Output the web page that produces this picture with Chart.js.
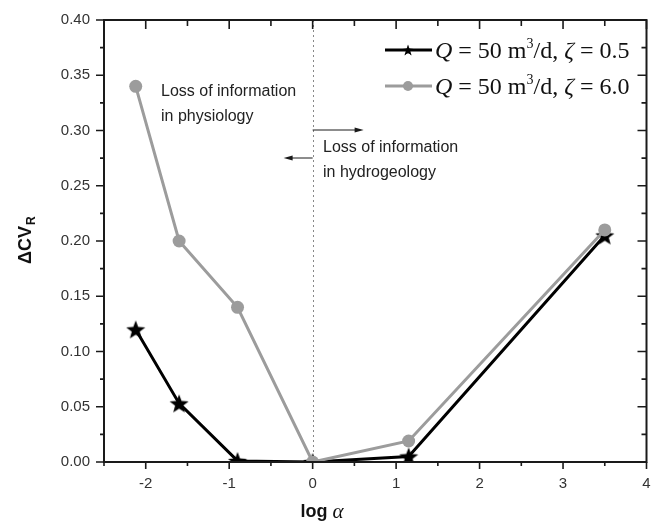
<!DOCTYPE html>
<html>
<head>
<meta charset="utf-8">
<script src="https://cdn.jsdelivr.net/npm/chart.js@4/dist/chart.umd.min.js"></script>
<style>
  html, body { margin: 0; padding: 0; background: #fff; }
  #wrap { width: 653px; height: 522px; }
</style>
</head>
<body>
<div id="wrap"><canvas id="chart" width="653" height="522"></canvas></div>
<script>
// data
const logAlpha = [-2.12, -1.6, -0.9, 0, 1.15, 3.5];
const cvZeta05 = [0.12, 0.053, 0.001, 0, 0.005, 0.205];
const cvZeta60 = [0.34, 0.20, 0.14, 0, 0.019, 0.21];
const xTicks = [-2, -1, 0, 1, 2, 3, 4];
const yTicks = [0, 0.05, 0.10, 0.15, 0.20, 0.25, 0.30, 0.35, 0.40];

const GREY = "#9c9c9c";
const INK = "#1a1a1a";
const SANS = "'Liberation Sans', Arial, sans-serif";
const SERIF = "'Liberation Serif', 'Times New Roman', serif";

// filled five point star for the black series
function makeStar(size, color) {
    const c = document.createElement("canvas");
    c.width = size; c.height = size;
    const g = c.getContext("2d");
    const r1 = size / 2, r2 = size / 2 * 0.42;
    g.beginPath();
    for (let i = 0; i < 10; i++) {
        const r = i % 2 === 0 ? r1 : r2;
        const a = -Math.PI / 2 + i * Math.PI / 5;
        g.lineTo(size / 2 + r * Math.cos(a), size / 2 + 1 + r * Math.sin(a));
    }
    g.closePath();
    g.fillStyle = color;
    g.fill();
    return c;
}
const starImg = makeStar(20, "#000");

const toPoints = (xs, ys) => xs.map((x, i) => ({ x, y: ys[i] }));

// frame, ticks, dotted line, arrows, notes, legend, axis titles
const decorations = {
    id: "decorations",
    beforeDatasetsDraw(chart) {
        const { ctx, chartArea: a, scales: { x } } = chart;
        ctx.save();
        ctx.strokeStyle = "#888";
        ctx.lineWidth = 1;
        ctx.setLineDash([2, 3]);
        const x0 = Math.round(x.getPixelForValue(0)) + 0.5;
        ctx.beginPath();
        ctx.moveTo(x0, a.top);
        ctx.lineTo(x0, a.bottom);
        ctx.stroke();
        ctx.restore();
    },
    afterDraw(chart) {
        const { ctx, chartArea: a, scales: { x, y } } = chart;
        ctx.save();

        // frame
        ctx.strokeStyle = INK;
        ctx.lineWidth = 2;
        ctx.strokeRect(a.left, a.top, a.right - a.left, a.bottom - a.top);

        // ticks: outward on left/bottom, inward on right/top
        ctx.lineWidth = 1.6;
        ctx.beginPath();
        for (let v = -2.5; v <= 4.001; v += 0.5) {
            const px = x.getPixelForValue(v);
            const major = Math.abs(v - Math.round(v)) < 1e-6;
            const len = major ? 7 : 4;
            ctx.moveTo(px, a.bottom); ctx.lineTo(px, a.bottom + len);
            ctx.moveTo(px, a.top); ctx.lineTo(px, a.top + len + 2);
        }
        for (let v = 0; v <= 0.4001; v += 0.025) {
            const py = y.getPixelForValue(v);
            const major = Math.abs(v / 0.05 - Math.round(v / 0.05)) < 1e-6;
            const len = major ? 8 : 4;
            ctx.moveTo(a.left, py); ctx.lineTo(a.left - len, py);
            ctx.moveTo(a.right, py); ctx.lineTo(a.right - len - 1, py);
        }
        ctx.stroke();

        // arrows around log alpha = 0
        const x0 = x.getPixelForValue(0);
        function arrow(x1, x2, yy) {
            const dir = Math.sign(x2 - x1);
            ctx.strokeStyle = INK;
            ctx.fillStyle = INK;
            ctx.lineWidth = 1;
            ctx.beginPath();
            ctx.moveTo(x1, yy); ctx.lineTo(x2 - dir * 6, yy);
            ctx.stroke();
            ctx.beginPath();
            ctx.moveTo(x2, yy);
            ctx.lineTo(x2 - dir * 9, yy - 2.5);
            ctx.lineTo(x2 - dir * 9, yy + 2.5);
            ctx.closePath();
            ctx.fill();
        }
        arrow(x0, x0 + 51, 130);
        arrow(x0, x0 - 29, 158);

        // notes
        ctx.fillStyle = "#222";
        ctx.font = "16px " + SANS;
        ctx.textBaseline = "middle";
        ctx.textAlign = "left";
        ctx.fillText("Loss of information", 161, 92);
        ctx.fillText("in physiology", 161, 117);
        ctx.fillText("Loss of information", 323, 148);
        ctx.fillText("in hydrogeology", 323, 173);

        // legend
        function legendRow(yy, color, marker, zeta) {
            ctx.strokeStyle = color;
            ctx.lineWidth = 3;
            ctx.beginPath();
            ctx.moveTo(385, yy); ctx.lineTo(432, yy);
            ctx.stroke();
            if (marker === "star") {
                ctx.drawImage(starImg, 408 - 6, yy - 6, 12, 12);
            } else {
                ctx.fillStyle = color;
                ctx.beginPath();
                ctx.arc(408, yy, 5, 0, Math.PI * 2);
                ctx.fill();
            }
            ctx.fillStyle = "#111";
            ctx.textBaseline = "alphabetic";
            const base = yy + 8;
            let cx = 435;
            const parts = [
                ["italic 24px " + SERIF, "Q", 0],
                ["24px " + SERIF, " = 50 m", 0],
                ["14px " + SERIF, "3", -10],
                ["24px " + SERIF, "/d, ", 0],
                ["italic 24px " + SERIF, "\u03B6", 0],
                ["24px " + SERIF, " = " + zeta, 0]
            ];
            parts.forEach(([font, txt, dy]) => {
                ctx.font = font;
                ctx.fillText(txt, cx, base + dy);
                cx += ctx.measureText(txt).width;
            });
        }
        legendRow(50, "#000", "star", "0.5");
        legendRow(86, GREY, "circle", "6.0");

        // axis titles
        ctx.fillStyle = "#111";
        ctx.textBaseline = "middle";
        ctx.font = "bold 18px " + SANS;
        ctx.save();
        ctx.translate(26, 245);
        ctx.rotate(-Math.PI / 2);
        ctx.textAlign = "center";
        ctx.fillText("\u0394CV", 0, 0);
        const w = ctx.measureText("\u0394CV").width;
        ctx.font = "bold 12px " + SANS;
        ctx.textAlign = "left";
        ctx.fillText("R", w / 2 + 1, 6);
        ctx.restore();

        ctx.textAlign = "left";
        ctx.font = "bold 18px " + SANS;
        const lw = ctx.measureText("log ").width;
        ctx.font = "italic 21px " + SERIF;
        const aw = ctx.measureText("\u03B1").width;
        const sx = 322 - (lw + aw) / 2;
        ctx.font = "bold 18px " + SANS;
        ctx.fillText("log ", sx, 512);
        ctx.font = "italic 21px " + SERIF;
        ctx.fillText("\u03B1", sx + lw, 512);

        ctx.restore();
    }
};

new Chart(document.getElementById("chart"), {
    type: "scatter",
    data: {
        datasets: [
            {
                label: "Q = 50 m3/d, zeta = 6.0",
                data: toPoints(logAlpha, cvZeta60),
                showLine: true,
                borderColor: GREY,
                backgroundColor: GREY,
                borderWidth: 3,
                pointRadius: 6.5,
                pointHoverRadius: 6.5,
                pointStyle: "circle",
                pointBorderWidth: 0,
                order: 0
            },
            {
                label: "Q = 50 m3/d, zeta = 0.5",
                data: toPoints(logAlpha, cvZeta05),
                showLine: true,
                borderColor: "#000",
                backgroundColor: "#000",
                borderWidth: 3,
                pointStyle: starImg,
                // the image is drawn at its own size; keep radius small so it adds no layout padding
                pointRadius: 1,
                pointBorderWidth: 0,
                order: 1
            }
        ]
    },
    options: {
        responsive: false,
        animation: false,
        layout: { padding: { top: 20, right: 6, left: 0, bottom: 0 } },
        plugins: { legend: { display: false }, tooltip: { enabled: false } },
        scales: {
            x: {
                type: "linear",
                min: -2.5,
                max: 4,
                afterBuildTicks: s => { s.ticks = xTicks.map(v => ({ value: v })); },
                afterFit: s => { s.height = 60; s.paddingLeft = 0; s.paddingRight = 0; },
                grid: { display: false, drawTicks: false },
                border: { display: false },
                ticks: {
                    padding: 13,
                    color: "#333",
                    font: { family: SANS, size: 15 },
                    maxRotation: 0,
                    callback: v => String(v)
                }
            },
            y: {
                type: "linear",
                min: 0,
                max: 0.4,
                afterBuildTicks: s => { s.ticks = yTicks.map(v => ({ value: v })); },
                afterFit: s => { s.width = 104; s.paddingTop = 0; s.paddingBottom = 0; },
                grid: { display: false, drawTicks: false },
                border: { display: false },
                ticks: {
                    padding: 14,
                    color: "#333",
                    font: { family: SANS, size: 15 },
                    callback: v => Number(v).toFixed(2)
                }
            }
        }
    },
    plugins: [decorations]
});
</script>
</body>
</html>
